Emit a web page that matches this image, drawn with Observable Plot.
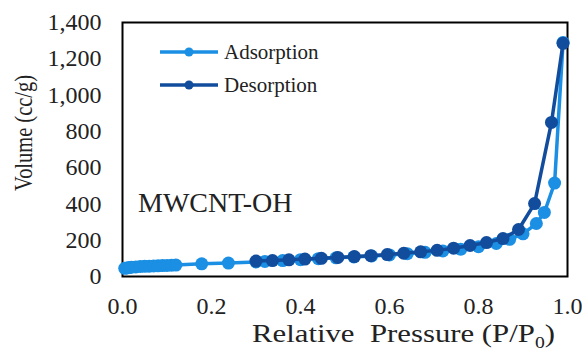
<!DOCTYPE html>
<html>
<head>
<meta charset="utf-8">
<script src="https://cdn.jsdelivr.net/npm/d3@7"></script>
<script src="https://cdn.jsdelivr.net/npm/@observablehq/plot@0.6"></script>
<style>
  html, body { margin: 0; padding: 0; background: #fff; }
  #chart { width: 582px; height: 357px; }
</style>
</head>
<body>
<div id="chart"></div>
<script>
const adsorptionP = [0.005, 0.01, 0.015, 0.02, 0.03, 0.04, 0.05, 0.06, 0.07, 0.08, 0.09, 0.10, 0.11, 0.12, 0.178, 0.238, 0.30, 0.32, 0.36, 0.40, 0.44, 0.48, 0.52, 0.56, 0.60, 0.64, 0.68, 0.72, 0.76, 0.80, 0.84, 0.87, 0.90, 0.93, 0.948, 0.971, 0.99];
const adsorptionV = [45, 47, 49, 51, 53, 55, 56, 57, 58, 59, 60, 61, 62, 63, 70, 74, 80, 83, 88, 93, 98, 103, 108, 113, 119, 126, 133, 141, 150, 164, 182, 205, 235, 292, 353, 515, 1290];
const desorptionP = [0.30, 0.337, 0.374, 0.41, 0.447, 0.484, 0.521, 0.558, 0.595, 0.632, 0.67, 0.707, 0.744, 0.781, 0.818, 0.855, 0.89, 0.926, 0.964, 0.99];
const desorptionV = [85, 88, 92, 96, 100, 105, 110, 115, 121, 128, 136, 144, 156, 171, 187, 209, 259, 402, 849, 1285];
const xTicks = [0, 0.2, 0.4, 0.6, 0.8, 1.0];
const yTicks = [0, 200, 400, 600, 800, 1000, 1200, 1400];
const seriesNames = ["Adsorption", "Desorption"];
const seriesColors = ["#1a8fe3", "#124c9c"];

const ads = adsorptionP.map((p, i) => ({p, v: adsorptionV[i]}));
const des = desorptionP.map((p, i) => ({p, v: desorptionV[i]}));

const W = 582, H = 357, mL = 122, mR = 15, mT = 22, mB = 81;
const serif = "'Liberation Serif', 'Times New Roman', serif";

const chart = Plot.plot({
  width: W,
  height: H,
  marginLeft: mL,
  marginRight: mR,
  marginTop: mT,
  marginBottom: mB,
  style: {fontFamily: serif, fontSize: "24px", color: "#222", background: "#fff", overflow: "visible"},
  x: {domain: [0, 1], ticks: xTicks, tickFormat: d3.format(".1f"), tickSize: 0, tickPadding: 20, label: null},
  y: {domain: [0, 1400], ticks: yTicks, tickFormat: d3.format(","), tickSize: 0, tickPadding: 21, label: null},
  marks: [
    Plot.frame({stroke: "#000", strokeWidth: 2}),
    Plot.line(ads, {x: "p", y: "v", stroke: seriesColors[0], strokeWidth: 3.5}),
    Plot.dot(ads, {x: "p", y: "v", fill: seriesColors[0], r: 6.5}),
    Plot.line(des, {x: "p", y: "v", stroke: seriesColors[1], strokeWidth: 3.5}),
    Plot.dot(des, {x: "p", y: "v", fill: seriesColors[1], r: 6.5})
  ]
});
document.getElementById("chart").appendChild(chart);
d3.select(chart).selectAll("text").style("font-family", serif);

const svg = d3.select(chart);
// Legend
const legendRows = [52, 85];
seriesNames.forEach((name, i) => {
  const y = legendRows[i];
  svg.append("line").attr("x1", 160).attr("x2", 218).attr("y1", y).attr("y2", y)
    .attr("stroke", seriesColors[i]).attr("stroke-width", 3.5);
  svg.append("circle").attr("cx", 189).attr("cy", y).attr("r", 4.5).attr("fill", seriesColors[i]);
  svg.append("text").attr("x", 224).attr("y", y + 7).attr("text-anchor", "start").style("font-family", serif)
    .attr("font-size", 21).attr("fill", "#222").text(name);
});
// Sample label
svg.append("text").attr("x", 138).attr("y", 212).attr("text-anchor", "start").style("font-family", serif)
  .attr("font-size", 28).attr("fill", "#222").text("MWCNT-OH");
// X axis title
const xt = svg.append("text").attr("x", 252).attr("y", 342).attr("text-anchor", "start").style("font-family", serif)
  .attr("font-size", 25).attr("fill", "#222").attr("textLength", 303).attr("lengthAdjust", "spacingAndGlyphs");
xt.append("tspan").text("Relative\u00a0\u00a0Pressure (P/P");
xt.append("tspan").attr("font-size", 16).attr("dy", 6).text("0");
xt.append("tspan").attr("dy", -6).text(")");
// Y axis title
svg.append("text").attr("transform", "translate(32,133) rotate(-90)").attr("text-anchor", "middle")
  .style("font-family", serif).attr("font-size", 25).attr("fill", "#222")
  .attr("textLength", 116).attr("lengthAdjust", "spacingAndGlyphs").text("Volume (cc/g)");
</script>
</body>
</html>
